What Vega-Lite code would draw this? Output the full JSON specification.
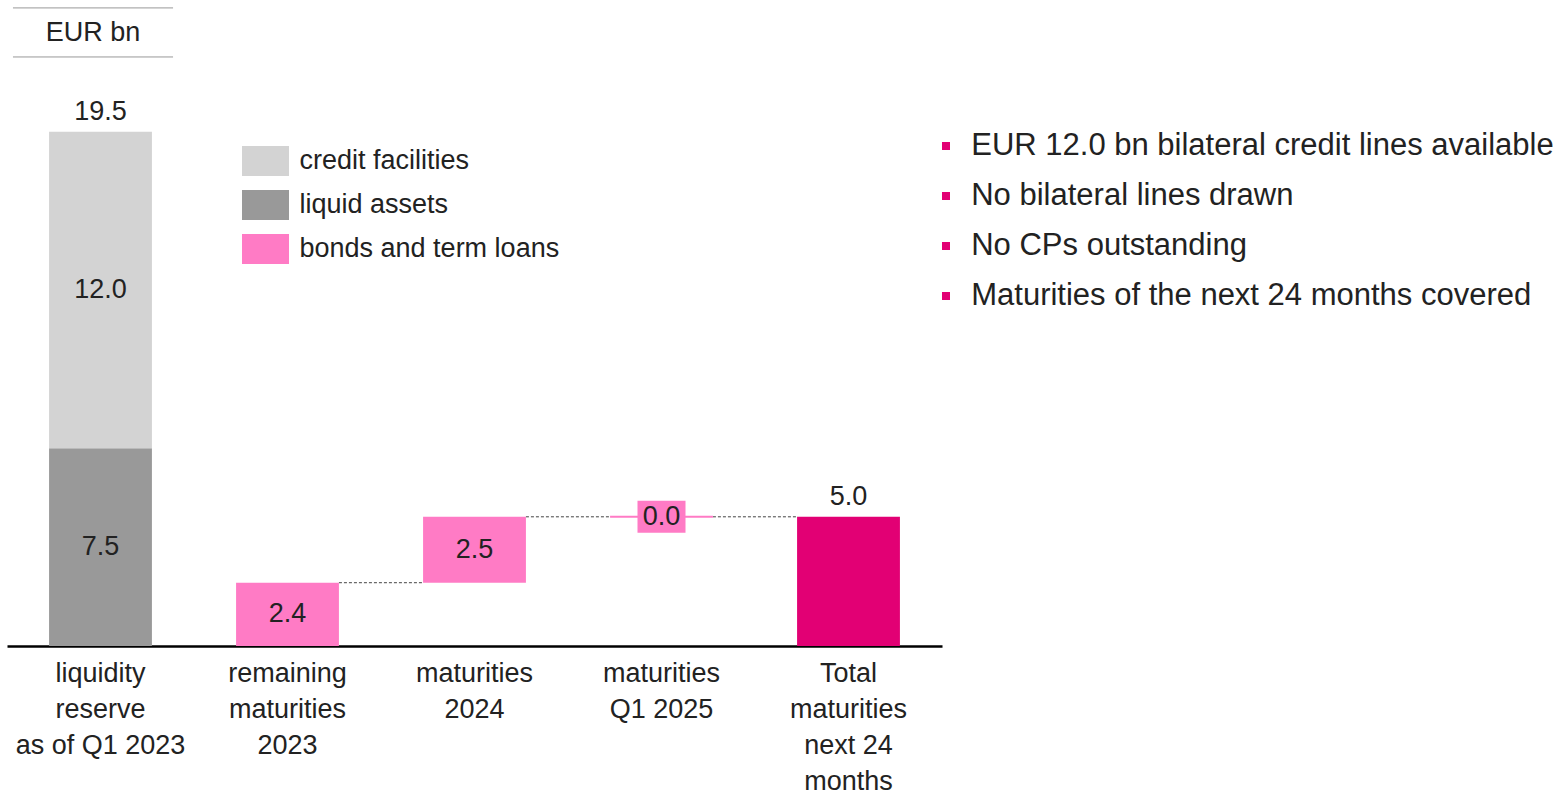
{
  "$schema": "https://vega.github.io/schema/vega-lite/v6.json",
  "padding": {"left": 7, "top": 0, "right": 0, "bottom": 0},
  "config": {
    "font": "Liberation Sans",
    "view": {"stroke": null},
    "concat": {"spacing": 0},
    "text": {"color": "#222222"}
  },
  "resolve": {"scale": {"x": "independent", "y": "independent", "color": "independent"}},
  "datasets": {
    "bars": [
      {"cat": "liquidity|reserve|as of Q1 2023", "kind": "liquid assets", "lo": 0, "hi": 7.5, "label": "7.5"},
      {"cat": "liquidity|reserve|as of Q1 2023", "kind": "credit facilities", "lo": 7.5, "hi": 19.5, "label": "12.0"},
      {"cat": "remaining|maturities|2023", "kind": "bonds and term loans", "lo": 0, "hi": 2.4, "label": "2.4"},
      {"cat": "maturities|2024", "kind": "bonds and term loans", "lo": 2.4, "hi": 4.9, "label": "2.5"},
      {"cat": "maturities|Q1 2025", "kind": "bonds and term loans", "lo": 4.9, "hi": 4.9, "label": "0.0"},
      {"cat": "Total|maturities|next 24|months", "kind": "total", "lo": 0, "hi": 4.9, "label": ""}
    ],
    "tops": [
      {"cat": "liquidity|reserve|as of Q1 2023", "v": 19.5, "label": "19.5"},
      {"cat": "Total|maturities|next 24|months", "v": 4.9, "label": "5.0"}
    ],
    "links": [
      {"from": "remaining|maturities|2023", "to": "maturities|2024", "v": 2.4},
      {"from": "maturities|2024", "to": "maturities|Q1 2025", "v": 4.9},
      {"from": "maturities|Q1 2025", "to": "Total|maturities|next 24|months", "v": 4.9}
    ],
    "header": [{"text": "EUR bn"}],
    "notes": [
      {"line": 1, "text": "EUR 12.0 bn bilateral credit lines available"},
      {"line": 2, "text": "No bilateral lines drawn"},
      {"line": 3, "text": "No CPs outstanding"},
      {"line": 4, "text": "Maturities of the next 24 months covered"}
    ]
  },
  "hconcat": [
    {
      "width": 935,
      "height": 646,
      "resolve": {"scale": {"x": "independent"}},
      "layer": [
        {
          "data": {"name": "header"},
          "layer": [
            {
              "mark": {"type": "rule", "color": "#999999", "strokeWidth": 1},
              "encoding": {
                "x": {"datum": 0.032, "type": "quantitative", "scale": {"domain": [0, 5]}, "axis": null},
                "x2": {"datum": 0.888},
                "y": {"datum": 24.2, "type": "quantitative", "scale": {"domain": [0, 24.5], "nice": false}, "axis": null}
              }
            },
            {
              "mark": {"type": "rule", "color": "#999999", "strokeWidth": 1},
              "encoding": {
                "x": {"datum": 0.032, "type": "quantitative", "scale": {"domain": [0, 5]}, "axis": null},
                "x2": {"datum": 0.888},
                "y": {"datum": 22.34, "type": "quantitative", "axis": null}
              }
            },
            {
              "mark": {"type": "text", "fontSize": 27, "baseline": "middle", "align": "center"},
              "encoding": {
                "x": {"datum": 0.46, "type": "quantitative", "scale": {"domain": [0, 5]}, "axis": null},
                "y": {"datum": 23.25, "type": "quantitative", "axis": null},
                "text": {"field": "text"}
              }
            }
          ]
        },
        {
          "encoding": {
            "x": {
              "field": "cat",
              "type": "nominal",
              "scale": {
                "domain": ["liquidity|reserve|as of Q1 2023", "remaining|maturities|2023", "maturities|2024", "maturities|Q1 2025", "Total|maturities|next 24|months"],
                "paddingInner": 0,
                "paddingOuter": 0
              },
              "axis": {
                "title": null,
                "labelExpr": "split(datum.label, '|')",
                "labelAngle": 0,
                "labelFontSize": 27,
                "labelColor": "#222222",
                "labelLineHeight": 36,
                "labelBaseline": "top",
                "labelPadding": 14,
                "labelLimit": 400,
                "labelOverlap": false,
                "ticks": false,
                "domainColor": "#000000",
                "domainWidth": 2.5
              }
            }
          },
          "layer": [
            {
              "data": {"name": "links"},
              "mark": {"type": "rule", "color": "#444444", "strokeWidth": 1, "strokeDash": [3, 2]},
              "encoding": {
                "x": {"field": "from", "type": "nominal", "bandPosition": 0.775},
                "x2": {"field": "to", "bandPosition": 0.225},
                "y": {"field": "v", "type": "quantitative", "scale": {"domain": [0, 24.5], "nice": false}, "axis": null}
              }
            },
            {
              "data": {"name": "bars"},
              "mark": {"type": "bar", "width": {"band": 0.55}},
              "encoding": {
                "y": {"field": "lo", "type": "quantitative", "axis": null},
                "y2": {"field": "hi"},
                "color": {
                  "field": "kind",
                  "type": "nominal",
                  "scale": {
                    "domain": ["credit facilities", "liquid assets", "bonds and term loans", "total"],
                    "range": ["#d3d3d3", "#999999", "#ff7bc5", "#e20074"]
                  },
                  "legend": {
                    "title": null,
                    "orient": "none",
                    "legendX": 238.5,
                    "legendY": 141,
                    "values": ["credit facilities", "liquid assets", "bonds and term loans"],
                    "symbolType": "M-1.175,-0.75H1.175V0.75H-1.175Z",
                    "symbolSize": 1600,
                    "symbolStrokeWidth": 0,
                    "symbolOpacity": 1,
                    "labelFontSize": 27,
                    "labelColor": "#222222",
                    "labelOffset": 14,
                    "labelLimit": 400,
                    "rowPadding": 9,
                    "padding": 0
                  }
                }
              }
            },
            {
              "data": {"name": "bars"},
              "transform": [{"filter": "datum.lo == datum.hi"}],
              "layer": [
                {
                  "mark": {"type": "rule", "color": "#ff7bc5", "strokeWidth": 2},
                  "encoding": {
                    "x": {"field": "cat", "type": "nominal", "bandPosition": 0.225},
                    "x2": {"field": "cat", "bandPosition": 0.775},
                    "y": {"field": "lo", "type": "quantitative", "axis": null}
                  }
                },
                {
                  "mark": {"type": "point", "shape": "M-1,-0.667H1V0.667H-1Z", "filled": true, "size": 2304, "color": "#ff7bc5", "opacity": 1},
                  "encoding": {
                    "x": {"field": "cat", "type": "nominal"},
                    "y": {"field": "lo", "type": "quantitative", "axis": null}
                  }
                }
              ]
            },
            {
              "data": {"name": "bars"},
              "transform": [
                {"filter": "datum.label != ''"},
                {"calculate": "(datum.lo + datum.hi) / 2", "as": "mid"}
              ],
              "mark": {"type": "text", "fontSize": 27, "baseline": "middle", "align": "center"},
              "encoding": {
                "x": {"field": "cat", "type": "nominal"},
                "y": {"field": "mid", "type": "quantitative", "axis": null},
                "text": {"field": "label"}
              }
            },
            {
              "data": {"name": "tops"},
              "mark": {"type": "text", "fontSize": 27, "baseline": "middle", "align": "center", "dy": -20},
              "encoding": {
                "x": {"field": "cat", "type": "nominal"},
                "y": {"field": "v", "type": "quantitative", "axis": null},
                "text": {"field": "label"}
              }
            }
          ]
        }
      ]
    },
    {
      "width": 626,
      "height": 646,
      "data": {"name": "notes"},
      "encoding": {
        "y": {"field": "line", "type": "ordinal", "scale": {"type": "point", "range": [146, 296], "padding": 0}, "axis": null}
      },
      "layer": [
        {
          "mark": {"type": "point", "shape": "square", "filled": true, "size": 64, "color": "#e20074", "opacity": 1},
          "encoding": {
            "x": {"datum": 0.0032, "type": "quantitative", "scale": {"domain": [0, 1]}, "axis": null}
          }
        },
        {
          "mark": {"type": "text", "align": "left", "baseline": "middle", "fontSize": 31},
          "encoding": {
            "x": {"datum": 0.0435, "type": "quantitative", "scale": {"domain": [0, 1]}, "axis": null},
            "text": {"field": "text"}
          }
        }
      ]
    }
  ]
}
